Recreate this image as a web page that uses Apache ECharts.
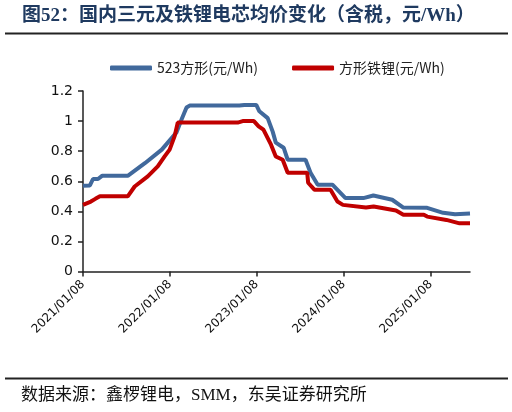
<!DOCTYPE html>
<html>
<head>
<meta charset="utf-8">
<script src="https://cdn.jsdelivr.net/npm/echarts@6/dist/echarts.min.js"></script>
<style>
  html, body { margin: 0; padding: 0; background: #fff; }
  #chart { width: 512px; height: 412px; }
</style>
</head>
<body>
<div id="chart"></div>
<script>
// 起始日期，x轴按天数计
var baseDate = '2021/01/08';
var endDate = '2025/06/22';
var tickDates = ['2021/01/08', '2022/01/08', '2023/01/08', '2024/01/08', '2025/01/08'];

// 523方形(元/Wh)
var ncmDates = ['2021/01/08', '2021/01/16', '2021/02/06', '2021/02/19', '2021/03/12', '2021/03/29',
  '2021/07/15', '2021/09/25', '2021/12/05', '2022/01/28', '2022/02/05', '2022/02/26', '2022/03/19',
  '2022/04/01', '2022/10/27', '2022/11/17', '2023/01/06', '2023/01/19', '2023/02/23', '2023/03/16',
  '2023/03/29', '2023/05/01', '2023/05/18', '2023/08/01', '2023/08/22', '2023/09/21', '2023/11/22',
  '2024/01/16', '2024/03/31', '2024/05/12', '2024/07/30', '2024/09/15', '2024/12/24', '2025/03/01',
  '2025/04/20', '2025/06/22'];
var ncmValues = [0.57, 0.572, 0.572, 0.615, 0.615, 0.636,
  0.636, 0.72, 0.81, 0.91, 0.925, 1.01, 1.09,
  1.103, 1.103, 1.107, 1.107, 1.065, 1.02, 0.93,
  0.857, 0.823, 0.743, 0.743, 0.657, 0.577, 0.577,
  0.488, 0.488, 0.505, 0.477, 0.425, 0.423, 0.39,
  0.38, 0.385];

// 方形铁锂(元/Wh)
var lfpDates = ['2021/01/08', '2021/01/16', '2021/02/10', '2021/03/01', '2021/03/20', '2021/07/15',
  '2021/08/13', '2021/10/07', '2021/11/18', '2021/12/17', '2022/01/07', '2022/01/28', '2022/02/10',
  '2022/10/20', '2022/11/10', '2022/12/27', '2023/01/16', '2023/02/05', '2023/03/09', '2023/03/29',
  '2023/04/27', '2023/05/18', '2023/08/08', '2023/08/12', '2023/09/08', '2023/11/14', '2023/12/13',
  '2024/01/05', '2024/04/11', '2024/05/13', '2024/08/15', '2024/09/15', '2024/12/10', '2024/12/24',
  '2025/03/15', '2025/05/09', '2025/06/22'];
var lfpValues = [0.443, 0.443, 0.465, 0.483, 0.5, 0.5,
  0.565, 0.632, 0.699, 0.765, 0.81, 0.9, 0.99,
  0.99, 1.0, 1.0, 0.965, 0.943, 0.843, 0.765,
  0.743, 0.657, 0.657, 0.59, 0.543, 0.543, 0.465,
  0.443, 0.425, 0.432, 0.405, 0.377, 0.377, 0.365,
  0.343, 0.32, 0.32];

var DAY = 86400000;
function toDay(s) {
  var p = s.split('/');
  var b = baseDate.split('/');
  return Math.round((Date.UTC(+p[0], +p[1] - 1, +p[2]) - Date.UTC(+b[0], +b[1] - 1, +b[2])) / DAY);
}
function fmtDay(v) {
  var b = baseDate.split('/');
  var d = new Date(Date.UTC(+b[0], +b[1] - 1, +b[2]) + v * DAY);
  var mm = ('0' + (d.getUTCMonth() + 1)).slice(-2);
  var dd = ('0' + d.getUTCDate()).slice(-2);
  return d.getUTCFullYear() + '/' + mm + '/' + dd;
}
function pairs(dates, values) {
  var out = [];
  for (var i = 0; i < dates.length; i++) {
    out.push([toDay(dates[i]), values[i]]);
  }
  return out;
}
var tickValues = tickDates.map(toDay);

var myChart = echarts.init(document.getElementById('chart'));
var option = {
  animation: false,
  title: [{
    text: '图52：国内三元及铁锂电芯均价变化（含税，元/Wh）',
    left: 17,
    top: 2,
    textStyle: {
      fontFamily: '"Liberation Serif", "Noto Sans CJK SC", serif',
      fontWeight: 'bold',
      fontSize: 19,
      color: '#1f3a60'
    }
  }, {
    text: '数据来源：鑫椤锂电，SMM，东吴证券研究所',
    left: 16,
    top: 382,
    textStyle: {
      fontFamily: '"Liberation Serif", "Noto Sans CJK SC", serif',
      fontWeight: 'normal',
      fontSize: 17,
      color: '#111'
    }
  }],
  graphic: [{
    type: 'line',
    shape: { x1: 5, y1: 33.5, x2: 508, y2: 33.5 },
    style: { stroke: '#222', lineWidth: 2 }
  }, {
    type: 'line',
    shape: { x1: 5, y1: 378.5, x2: 508, y2: 378.5 },
    style: { stroke: '#222', lineWidth: 2 }
  }],
  legend: {
    top: 56,
    left: 105,
    itemGap: 34,
    itemWidth: 42,
    itemHeight: 5,
    icon: 'roundRect',
    textStyle: {
      fontFamily: '"Noto Sans CJK SC", sans-serif',
      fontSize: 14,
      color: '#222'
    },
    data: ['523方形(元/Wh)', '方形铁锂(元/Wh)']
  },
  grid: {
    left: 83,
    right: 42,
    top: 91,
    bottom: 140.5
  },
  xAxis: {
    type: 'value',
    min: 0,
    max: toDay(endDate),
    splitLine: { show: false },
    axisLine: { lineStyle: { color: '#222', width: 1.5 } },
    axisTick: {
      customValues: tickValues,
      length: 5,
      inside: false,
      lineStyle: { color: '#222', width: 1.5 }
    },
    axisLabel: {
      customValues: tickValues,
      rotate: 45,
      margin: 11,
      fontFamily: '"DejaVu Sans", sans-serif',
      fontSize: 12,
      color: '#111',
      formatter: function (v) { return fmtDay(v); }
    }
  },
  yAxis: {
    type: 'value',
    min: 0,
    max: 1.2,
    interval: 0.2,
    splitLine: { show: false },
    axisLine: { show: true, lineStyle: { color: '#222', width: 1.5 } },
    axisTick: { show: true, length: 5, lineStyle: { color: '#222', width: 1.5 } },
    axisLabel: {
      margin: 10,
      fontFamily: '"DejaVu Sans", sans-serif',
      fontSize: 14,
      color: '#111'
    }
  },
  series: [{
    name: '523方形(元/Wh)',
    type: 'line',
    showSymbol: false,
    symbol: 'none',
    data: pairs(ncmDates, ncmValues),
    itemStyle: { color: '#41699c' },
    lineStyle: { color: '#41699c', width: 4 }
  }, {
    name: '方形铁锂(元/Wh)',
    type: 'line',
    showSymbol: false,
    symbol: 'none',
    data: pairs(lfpDates, lfpValues),
    itemStyle: { color: '#c00000' },
    lineStyle: { color: '#c00000', width: 4 }
  }]
};
myChart.setOption(option);
</script>
</body>
</html>
